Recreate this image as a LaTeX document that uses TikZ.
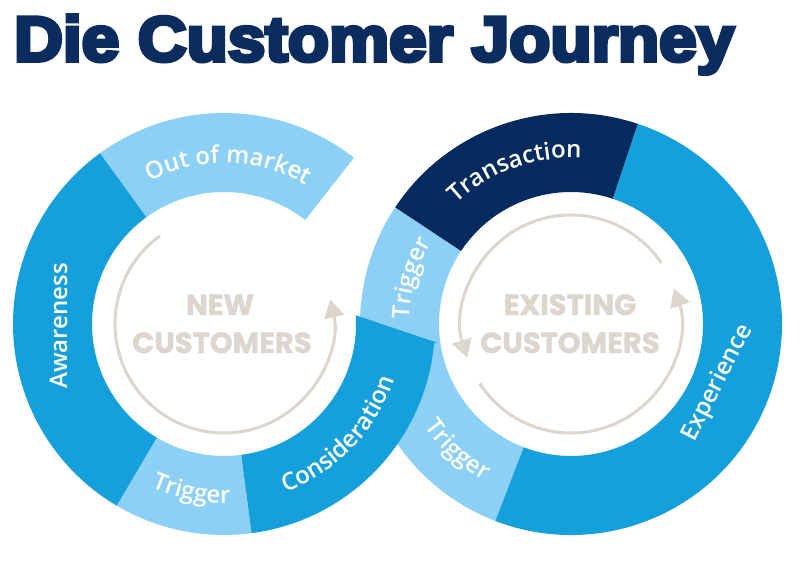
\documentclass[tikz,border=0pt]{standalone}
\usepackage{fontspec}
\usepackage{graphicx}
\usetikzlibrary{arrows.meta,decorations.text,calc}
\setmainfont{Open Sans}
\newfontfamily\titlefont{Liberation Sans Bold}[FakeBold=6]
\newfontfamily\ctrfont{Poppins}[BoldFeatures={FakeBold=1.5}]
\IfFontExistsTF{Open Sans SemiBold}
  {\newfontfamily\lblfont{Open Sans SemiBold}}
  {\IfFontExistsTF{Open Sans Semibold}
     {\newfontfamily\lblfont{Open Sans Semibold}}
     {\newfontfamily\lblfont{Open Sans}[FakeBold=3]}}
\definecolor{midblue}{HTML}{16A0DB}
\definecolor{lightblue}{HTML}{8CD1F5}
\definecolor{navyblue}{HTML}{042A5E}
\definecolor{beige}{HTML}{DDD6CF}
\definecolor{titleblue}{HTML}{0B2C5F}
\tikzset{
  circarrow/.style={draw=beige, line width=3pt, -{Triangle[length=18pt,width=20pt]}},
  ctrtext/.style={text=beige, font=\ctrfont\bfseries\fontsize{29}{29}\selectfont, inner sep=0pt, anchor=base},
  lbl/.style={text=white, font=\lblfont\fontsize{24}{24}\selectfont, inner sep=0pt},
  curvedlbl/.style={decorate, decoration={text along path, text align=center, text color=white,
      text={|\lblfont\fontsize{24}{24}\selectfont|#1}}},
}
\newcommand\ringseg[4]{%
  \fill[#4] ($(#1)+(#2:211pt)$) arc[start angle=#2, end angle=#3, radius=211pt]
    -- ($(#1)+(#3:132pt)$) arc[start angle=#3, end angle=#2, radius=132pt] -- cycle;}
\begin{document}
\begin{tikzpicture}[x=1pt,y=1pt]
\useasboundingbox (0,0) rectangle (800,577);
\fill[white] (0,0) rectangle (800,577);
\coordinate (L) at (224,253);
\coordinate (R) at (571,253);
% title
\node[anchor=base west, inner sep=0pt, text=titleblue] (title) at (14,516)
  {\resizebox{720pt}{46pt}{\titlefont Die Customer Journey}};
% right ring
\ringseg{R}{71.5}{146.5}{navyblue}
\ringseg{R}{146.5}{249}{lightblue}
\ringseg{R}{249}{431.5}{midblue}
% left ring
\ringseg{L}{52}{126}{lightblue}
\ringseg{L}{126}{239.5}{midblue}
\ringseg{L}{239.5}{277.5}{lightblue}
\fill[midblue] ($(L)+(-82.5:132pt)$) arc[start angle=-82.5, end angle=3.8, radius=132pt]
  -- (438,234) -- ($(L)+(-5.1:211pt)$) arc[start angle=-5.1, end angle=-82.5, radius=211pt] -- cycle;
% circular arrows
\draw[circarrow] ($(L)+(126:109pt)$) arc[start angle=126, end angle=373, radius=109pt];
\draw[circarrow] ($(R)+(34:109pt)$) arc[start angle=34, end angle=198, radius=109pt];
\draw[circarrow] ($(R)+(213:109pt)$) arc[start angle=213, end angle=379, radius=109pt];
% center texts
\node[ctrtext] (new) at (220,262) {NEW};
\node[ctrtext] (cust1) at (222,224) {CUSTOMERS};
\node[ctrtext] (exist) at (570,262) {EXISTING};
\node[ctrtext] (cust2) at (570,224) {CUSTOMERS};
% straight labels
\node[lbl, rotate=90, anchor=base] (aware) at (67,251) {Awareness};
\node[lbl, rotate=63] (exper) at (718,194) {Experience};
% curved labels
\path[curvedlbl={Out of market}] ($(L)+(130:161pt)$) arc[start angle=130, end angle=47, radius=161pt];
\path[curvedlbl={Trigger}] ($(L)+(235:179pt)$) arc[start angle=235, end angle=283, radius=179pt];
\path[curvedlbl={Consideration}] ($(L)+(-86:179pt)$) arc[start angle=-86, end angle=-2, radius=179pt];
\path[curvedlbl={Transaction}] ($(R)+(150:166pt)$) arc[start angle=150, end angle=70, radius=166pt];
\path[curvedlbl={Trigger}] ($(R)+(188:162pt)$) arc[start angle=188, end angle=140, radius=162pt];
\path[curvedlbl={Trigger}] ($(R)+(204:179pt)$) arc[start angle=204, end angle=252, radius=179pt];
\end{tikzpicture}
\end{document}
